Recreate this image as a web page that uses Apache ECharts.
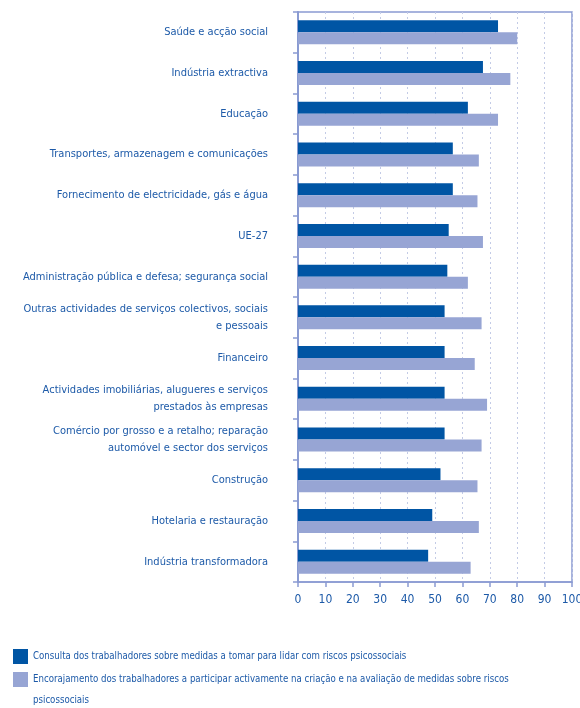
<!DOCTYPE html>
<html>
<head>
<meta charset="utf-8">
<script src="https://cdn.jsdelivr.net/npm/echarts@6/dist/echarts.min.js"></script>
<style>
html,body{margin:0;padding:0;background:#fff;}
#c{width:580px;height:708px;}
</style>
</head>
<body>
<div id="c"></div>
<script>
const categories = [
  "Saúde e acção social",
  "Indústria extractiva",
  "Educação",
  "Transportes, armazenagem e comunicações",
  "Fornecimento de electricidade, gás e água",
  "UE-27",
  "Administração pública e defesa; segurança social",
  "Outras actividades de serviços colectivos, sociais\ne pessoais",
  "Financeiro",
  "Actividades imobiliárias, alugueres e serviços\nprestados às empresas",
  "Comércio por grosso e a retalho; reparação\nautomóvel e sector dos serviços",
  "Construção",
  "Hotelaria e restauração",
  "Indústria transformadora"
];
const consulta = [73, 67.5, 62, 56.5, 56.5, 55, 54.5, 53.5, 53.5, 53.5, 53.5, 52, 49, 47.5];
const encorajamento = [80, 77.5, 73, 66, 65.5, 67.5, 62, 67, 64.5, 69, 67, 65.5, 66, 63];
const seriesNames = [
  "Consulta dos trabalhadores sobre medidas a tomar para lidar com riscos psicossociais",
  "Encorajamento dos trabalhadores a participar activamente na criação e na avaliação de medidas sobre riscos"
];
const legendContinuation = "psicossociais";
const xTicks = [0, 100, 10];

const FONT = '"DejaVu Sans Condensed", "Liberation Sans Narrow", sans-serif';
const TEXT = '#1d5aa8';
const AXIS = '#8a9bd2';

const chart = echarts.init(document.getElementById('c'), null, {renderer: 'canvas'});
chart.setOption({
  animation: false,
  backgroundColor: '#fff',
  grid: {left: 298, right: 8, top: 12, bottom: 126, show: true, borderColor: AXIS, borderWidth: 1.5,
         containLabel: false, outerBoundsMode: 'none'},
  xAxis: {
    type: 'value', min: xTicks[0], max: xTicks[1], interval: xTicks[2],
    axisLine: {show: true, lineStyle: {color: AXIS, width: 1.5}},
    axisTick: {show: true, length: 5, lineStyle: {color: AXIS, width: 1.5}},
    axisLabel: {color: TEXT, fontFamily: FONT, fontSize: 12, margin: 12},
    splitLine: {show: true, lineStyle: {color: '#c3cbe6', type: [2, 3], width: 1}}
  },
  yAxis: {
    type: 'category', inverse: true, data: categories,
    axisLine: {show: true, lineStyle: {color: AXIS, width: 2}},
    axisTick: {show: true, length: 5, lineStyle: {color: AXIS, width: 1.5}},
    axisLabel: {color: TEXT, fontFamily: FONT, fontSize: 11, margin: 30, lineHeight: 17, align: 'right'},
    splitLine: {show: false}
  },
  legend: {
    orient: 'vertical', left: 8, top: 640, itemWidth: 15, itemHeight: 15, itemGap: 0,
    icon: 'rect',
    textStyle: {color: TEXT, fontFamily: FONT, fontSize: 9.6, lineHeight: 23},
    data: seriesNames
  },
  graphic: [{
    type: 'text', left: 33, top: 695,
    style: {text: legendContinuation, fill: TEXT, font: '9.6px ' + FONT}
  }],
  series: [
    {name: seriesNames[0], type: 'bar', data: consulta, barWidth: 12, barGap: '0%', itemStyle: {color: '#0055a4'}},
    {name: seriesNames[1], type: 'bar', data: encorajamento, barWidth: 12, barGap: '0%', itemStyle: {color: '#97a5d4'}}
  ]
});
</script>
</body>
</html>
